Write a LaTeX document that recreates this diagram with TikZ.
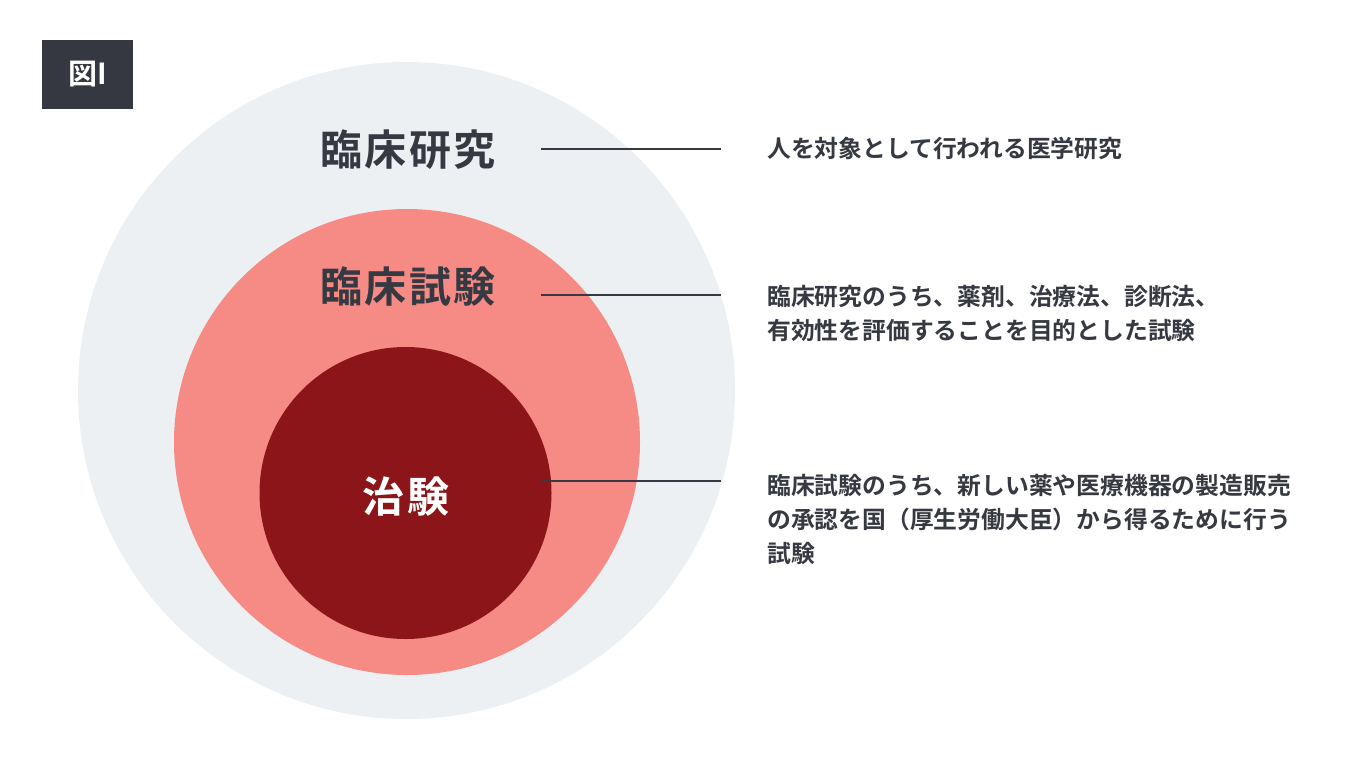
\documentclass[tikz,border=0pt]{standalone}
\usepackage{fontspec}
\newfontfamily\jpfont{Noto Sans CJK JP}[BoldFont={* Bold}]
\newfontfamily\jptitle{Noto Sans CJK JP Bold}[LetterSpace=5]
\definecolor{outerc}{HTML}{EDF0F3}
\definecolor{midc}{HTML}{F58B84}
\definecolor{innerc}{HTML}{8B1518}
\definecolor{inkc}{HTML}{363941}
\definecolor{tagc}{HTML}{353841}
\tikzset{
  ring/.style={circle, inner sep=0pt, draw=none},
  title/.style={inner sep=0pt, font=\jptitle\fontsize{42}{50}\selectfont},
  desc/.style={inner sep=0pt, anchor=west, align=left, text=inkc, font=\jpfont\bfseries\fontsize{23.8}{34}\selectfont},
  leader/.style={draw=inkc, line width=2pt},
}
\begin{document}
\begin{tikzpicture}[x=1pt,y=-1pt]
\useasboundingbox (0,0) rectangle (1360,764);
\fill[white] (0,0) rectangle (1360,764);
% circles
\node[ring, fill=outerc, minimum size=657pt] (outer) at (406.5,390.5) {};
\node[ring, fill=midc, minimum size=466pt] (mid) at (407,442) {};
\node[ring, fill=innerc, minimum size=292pt] (inner) at (405.5,493) {};
% tag
\node[fill=tagc, text=white, minimum width=91pt, minimum height=69pt, inner sep=0pt,
      font=\jpfont\bfseries\fontsize{29}{34}\selectfont] (tag) at (87.5,74.5) {図I};
% titles
\node[title, text=inkc] (t1) at (408,150) {臨床研究};
\node[title, text=inkc] (t2) at (408,287) {臨床試験};
\node[title, text=white] (t3) at (406,497) {治験};
% leader anchors
\coordinate (a1) at (541,149);
\coordinate (b1) at (721,149);
\coordinate (a2) at (541,295);
\coordinate (b2) at (721,295);
\coordinate (a3) at (541,481);
\coordinate (b3) at (721,481);
\draw[leader] (a1) -- (b1);
\draw[leader] (a2) -- (b2);
\draw[leader] (a3) -- (b3);
% descriptions
\node[desc] (d1) at (767,148) {人を対象として行われる医学研究};
\node[desc] (d2) at (767,313.5) {臨床研究のうち、薬剤、治療法、診断法、\\有効性を評価することを目的とした試験};
\node[desc] (d3) at (767,519) {臨床試験のうち、新しい薬や医療機器の製造販売\\の承認を国（厚生労働大臣）から得るために行う\\試験};
\end{tikzpicture}
\end{document}
